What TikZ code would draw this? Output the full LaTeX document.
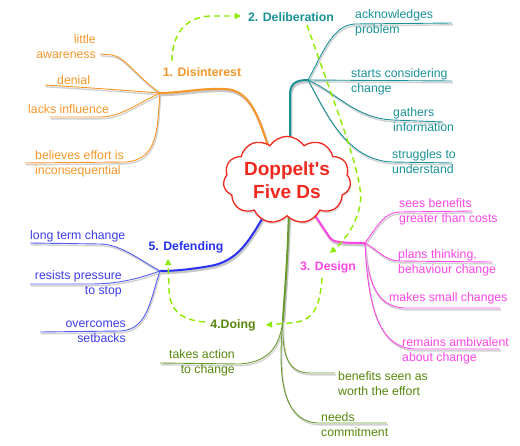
\documentclass[tikz,border=0pt]{standalone}
\usepackage{fontspec}
\setmainfont{Liberation Sans}
\usetikzlibrary{shapes.symbols,arrows.meta,shadows}
\definecolor{cOr}{RGB}{247,150,40}
\definecolor{cTe}{RGB}{25,145,150}
\definecolor{cPk}{RGB}{255,70,230}
\definecolor{cGr}{RGB}{105,155,45}
\definecolor{cGrT}{RGB}{85,135,10}
\definecolor{cBl}{RGB}{40,50,240}
\definecolor{cBlT}{RGB}{60,60,235}
\definecolor{cLi}{RGB}{140,235,0}
\definecolor{cRd}{RGB}{240,40,30}
\tikzset{
  subtxt/.style={font=\fontsize{12.3}{15}\selectfont, inner sep=0pt},
  lbl/.style={font=\bfseries\fontsize{12.3}{15}\selectfont, inner sep=0pt},
  br/.style={line width=0.9pt, preaction={draw=black!18, line width=1.4pt, transform canvas={shift={(0.8,1.8)}}}},
  trunk/.style={line width=2pt, preaction={draw=black!22, line width=2.6pt, transform canvas={shift={(1,2)}}}},
  dsh/.style={draw=cLi, line width=1.4pt, dash pattern=on 6pt off 4pt, -{Triangle[length=6pt,width=6pt]}},
}
\begin{document}
\begin{tikzpicture}[x=1pt,y=-1pt]
\useasboundingbox (0,0) rectangle (520,445);

% hubs
\coordinate (h1) at (160,93);
\coordinate (h2) at (308,80);
\coordinate (h3) at (365,243);
\coordinate (h4) at (283,320);
\coordinate (h5) at (160,271);
% trunk starts (inside the cloud)
\coordinate (s1) at (270,152);
\coordinate (s2) at (290,152);
\coordinate (s3) at (308,205);
\coordinate (s4) at (289,205);
\coordinate (s5) at (270,205);

% main trunks
\draw[trunk,cOr] (s1) .. controls (258,115) and (250,90) .. (225,89) .. controls (200,88) and (180,93) .. (h1);
\draw[trunk,cTe] (s2) -- (290,95) .. controls (290,84) and (295,80) .. (h2);
\draw[trunk,cPk] (s3) -- (330,238) .. controls (333,242) and (340,243) .. (h3);
\draw[trunk,cGr] (s4) .. controls (288,260) and (284,300) .. (h4);
\draw[trunk,cBl] (s5) .. controls (250,240) and (240,258) .. (215,265) .. controls (195,269) and (175,271) .. (h5);

% orange sub-branches
\coordinate (o1) at (100,54);
\coordinate (o2) at (45,85);
\coordinate (o3) at (50,117);
\coordinate (o4) at (25,163);
\draw[br,cOr] (h1) .. controls (135,75) and (125,57) .. (112,55) -- (o1);
\draw[br,cOr] (h1) .. controls (120,90) and (80,87) .. (o2);
\draw[br,cOr] (h1) .. controls (135,105) and (120,117) .. (100,117) -- (o3);
\draw[br,cOr] (h1) .. controls (157,125) and (160,160) .. (125,162) -- (o4);

% teal sub-branches
\coordinate (t1) at (452,23);
\coordinate (t2) at (452,81);
\coordinate (t3) at (443,122);
\coordinate (t4) at (452,163);
\draw[br,cTe] (h2) .. controls (322,55) and (332,25) .. (355,24) -- (t1);
\draw[br,cTe] (h2) -- (t2);
\draw[br,cTe] (h2) .. controls (340,95) and (355,118) .. (393,120) -- (t3);
\draw[br,cTe] (h2) .. controls (325,110) and (345,160) .. (392,162) -- (t4);

% pink sub-branches
\coordinate (p1) at (472,211);
\coordinate (p2) at (492,262);
\coordinate (p3) at (500,308);
\coordinate (p4) at (500,349);
\draw[br,cPk] (h3) .. controls (378,225) and (385,212) .. (400,212) -- (p1);
\draw[br,cPk] (h3) .. controls (378,250) and (385,261) .. (400,261) -- (p2);
\draw[br,cPk] (h3) .. controls (368,280) and (375,307) .. (405,308) -- (p3);
\draw[br,cPk] (h3) .. controls (368,310) and (380,348) .. (415,349) -- (p4);

% green sub-branches
\coordinate (g1) at (160,363);
\coordinate (g2) at (335,373);
\coordinate (g3) at (387,423);
\draw[br,cGr] (h4) .. controls (280,345) and (270,362) .. (240,364) -- (g1);
\draw[br,cGr] (h4) .. controls (282,350) and (285,373) .. (310,373) -- (g2);
\draw[br,cGr] (h4) .. controls (278,370) and (280,420) .. (317,423) -- (g3);

% blue sub-branches
\coordinate (b1) at (30,243);
\coordinate (b2) at (30,284);
\coordinate (b3) at (40,332);
\draw[br,cBl!80] (h5) .. controls (140,260) and (120,244) .. (100,244) -- (b1);
\draw[br,cBl!80] (h5) .. controls (140,278) and (120,284) .. (90,284) -- (b2);
\draw[br,cBl!80] (h5) .. controls (150,300) and (148,330) .. (120,331) -- (b3);

% cloud
\node[cloud, cloud puffs=11, cloud puff arc=115, aspect=1.7, draw=cRd, line width=1.3pt,
      fill=white, drop shadow={opacity=0.25, shadow xshift=1pt, shadow yshift=-2pt},
      minimum width=124pt, minimum height=74pt, inner sep=0pt, align=center, text=cRd,
      font=\bfseries\fontsize{19}{23}\selectfont] (c) at (287,180) {Doppelt\textquotesingle s\\Five Ds};

% stage labels
\node[lbl,text=cOr] (d1) at (202,72) {1. Disinterest};
\node[lbl,text=cTe] (d2) at (291,17) {2. Deliberation};
\node[lbl,text=cPk] (d3) at (328,267) {3. Design};
\node[lbl,text=cGrT] (d4) at (233,325) {4.Doing};
\node[lbl,text=cBl] (d5) at (186,247) {5. Defending};

% orange texts
\node[subtxt,text=cOr,align=right,anchor=east] (ot1) at (96,46.5) {little\\awareness};
\node[subtxt,text=cOr,anchor=west] (ot2) at (57,80) {denial};
\node[subtxt,text=cOr,anchor=west] (ot3) at (28,109) {lacks influence};
\node[subtxt,text=cOr,align=left,anchor=west] (ot4) at (35,163.5) {believes effort is\\inconsequential};

% teal texts
\node[subtxt,text=cTe,align=left,anchor=west] (tt1) at (355,22.5) {acknowledges\\problem};
\node[subtxt,text=cTe,align=left,anchor=west] (tt2) at (351,81.5) {starts considering\\change};
\node[subtxt,text=cTe,align=left,anchor=west] (tt3) at (393,119.5) {gathers\\information};
\node[subtxt,text=cTe,align=left,anchor=west] (tt4) at (392,161.5) {struggles to\\understand};

% pink texts
\node[subtxt,text=cPk,align=left,anchor=west] (pt1) at (399,211.5) {sees benefits\\greater than costs};
\node[subtxt,text=cPk,align=left,anchor=west] (pt2) at (398,262.5) {plans thinking,\\behaviour change};
\node[subtxt,text=cPk,anchor=west] (pt3) at (389,298) {makes small changes};
\node[subtxt,text=cPk,align=left,anchor=west] (pt4) at (402,350.5) {remains ambivalent\\about change};

% green texts
\node[subtxt,text=cGrT,align=right,anchor=east] (gt1) at (235,362.5) {takes action\\to change};
\node[subtxt,text=cGrT,align=left,anchor=west] (gt2) at (338,383.5) {benefits seen as\\worth the effort};
\node[subtxt,text=cGrT,align=left,anchor=west] (gt3) at (321,424.5) {needs\\commitment};

% blue texts
\node[subtxt,text=cBlT,anchor=west] (bt1) at (30,236) {long term change};
\node[subtxt,text=cBlT,align=right,anchor=east] (bt2) at (122,283.5) {resists pressure\\to stop};
\node[subtxt,text=cBlT,align=right,anchor=east] (bt3) at (126,332) {overcomes\\setbacks};

% dashed cycle arrows
\coordinate (a1s) at (172,61);
\coordinate (a1e) at (241,16);
\coordinate (a2s) at (307,25);
\coordinate (a2e) at (330,253);
\coordinate (a3s) at (322,278);
\coordinate (a3e) at (266,325);
\coordinate (a4s) at (205,322);
\coordinate (a4e) at (168,259);
\draw[dsh] (a1s) .. controls (172,35) and (185,17) .. (210,16) -- (a1e);
\draw[dsh] (a2s) .. controls (340,120) and (365,180) .. (360,205) .. controls (356,225) and (345,240) .. (a2e);
\draw[dsh] (a3s) .. controls (320,305) and (315,322) .. (290,323) -- (a3e);
\draw[dsh] (a4s) .. controls (180,320) and (170,310) .. (169,290) -- (a4e);
\end{tikzpicture}
\end{document}
